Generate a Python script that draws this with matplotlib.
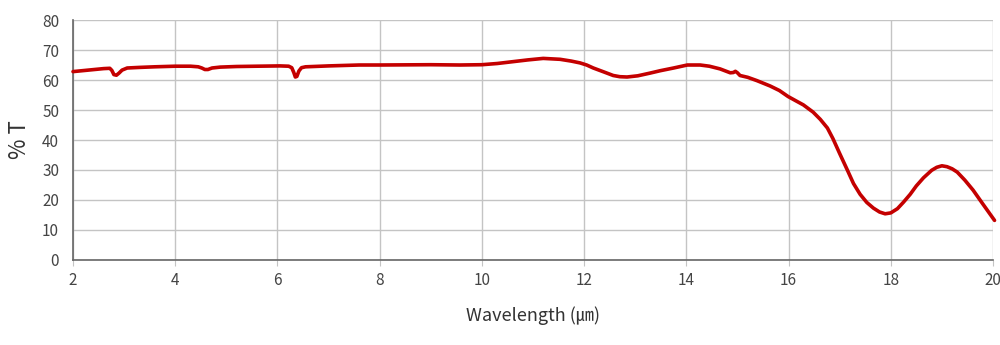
import matplotlib
matplotlib.use("Agg")
import matplotlib.pyplot as plt
import numpy as np

wavelength = [2.0, 2.3, 2.6, 2.72, 2.76, 2.8, 2.85, 2.9, 2.96, 3.06, 3.3, 3.6, 4.0, 4.3, 4.45, 4.52, 4.58, 4.64, 4.72, 4.88,
              5.2, 5.6, 6.05, 6.22, 6.28, 6.32, 6.35, 6.38, 6.42, 6.47, 6.55, 7.0, 7.6, 8.0, 9.0, 9.57, 10.0, 10.3, 10.55,
              10.9, 11.2, 11.53, 11.75, 11.92, 12.05, 12.18, 12.4, 12.57, 12.7, 12.84, 13.05, 13.29, 13.49, 13.75, 14.02,
              14.27, 14.45, 14.66, 14.86, 14.92, 14.96, 15.0, 15.05, 15.2, 15.38, 15.64, 15.82, 15.99, 16.15, 16.29,
              16.48, 16.62, 16.76, 16.87, 17.0, 17.15, 17.27, 17.4, 17.53, 17.66, 17.78, 17.89, 18.0, 18.13, 18.25,
              18.38, 18.5, 18.64, 18.8, 18.9, 19.0, 19.1, 19.2, 19.3, 19.45, 19.61, 19.8, 20.03]
transmission = [62.8, 63.3, 63.8, 63.9, 63.2, 61.8, 61.6, 62.3, 63.3, 64.0, 64.2, 64.4, 64.6, 64.6, 64.4, 64.0, 63.5, 63.5, 64.0, 64.3,
                64.5, 64.6, 64.7, 64.6, 64.1, 62.5, 61.0, 61.2, 63.0, 64.1, 64.4, 64.7, 65.0, 65.0, 65.1, 65.0, 65.1, 65.5, 66.0,
                66.7, 67.2, 66.9, 66.3, 65.7, 65.0, 64.0, 62.6, 61.5, 61.1, 61.0, 61.4, 62.3, 63.1, 64.0, 65.0,
                65.0, 64.6, 63.7, 62.4, 62.5, 62.9, 62.4, 61.5, 60.9, 59.8, 58.0, 56.5, 54.5, 53.0, 51.7,
                49.3, 46.9, 44.0, 40.4, 35.5, 30.0, 25.5, 21.9, 19.2, 17.3, 16.0, 15.4, 15.7, 17.1, 19.3,
                21.9, 24.7, 27.4, 29.9, 30.9, 31.4, 31.1, 30.4, 29.3, 26.6, 23.3, 18.7, 13.2]

xticks = [2, 4, 6, 8, 10, 12, 14, 16, 18, 20]
yticks = [0, 10, 20, 30, 40, 50, 60, 70, 80]

plt.rcParams['font.family'] = ['Noto Sans CJK KR', 'DejaVu Sans']

fig = plt.figure(figsize=(10, 3.45), dpi=100)
ax = fig.add_axes([0.073, 0.2464, 0.920, 0.6956])

ax.plot(wavelength, transmission, color='#c40000', linewidth=2.6,
        solid_capstyle='round', solid_joinstyle='round', zorder=3, clip_on=False)

ax.set_xlim(2, 20)
ax.set_ylim(0, 80)
ax.set_xticks(xticks)
ax.set_yticks(yticks)
ax.grid(True, color='#c4c4c4', linewidth=1)
ax.set_axisbelow(True)
for s in ['top', 'right']:
    ax.spines[s].set_visible(False)
for s in ['left', 'bottom']:
    ax.spines[s].set_color('#666666')
    ax.spines[s].set_linewidth(1.2)
ax.tick_params(axis='y', length=0, pad=10, labelsize=11, labelcolor='#444444')
ax.tick_params(axis='x', length=4, color='#c4c4c4', pad=5, labelsize=11, labelcolor='#444444')
ax.set_ylabel('% T', fontsize=16, color='#333333', labelpad=8)
ax.set_xlabel('Wavelength (㎛)', fontsize=13, color='#333333', labelpad=12)

fig.savefig('out.png', dpi=100)
